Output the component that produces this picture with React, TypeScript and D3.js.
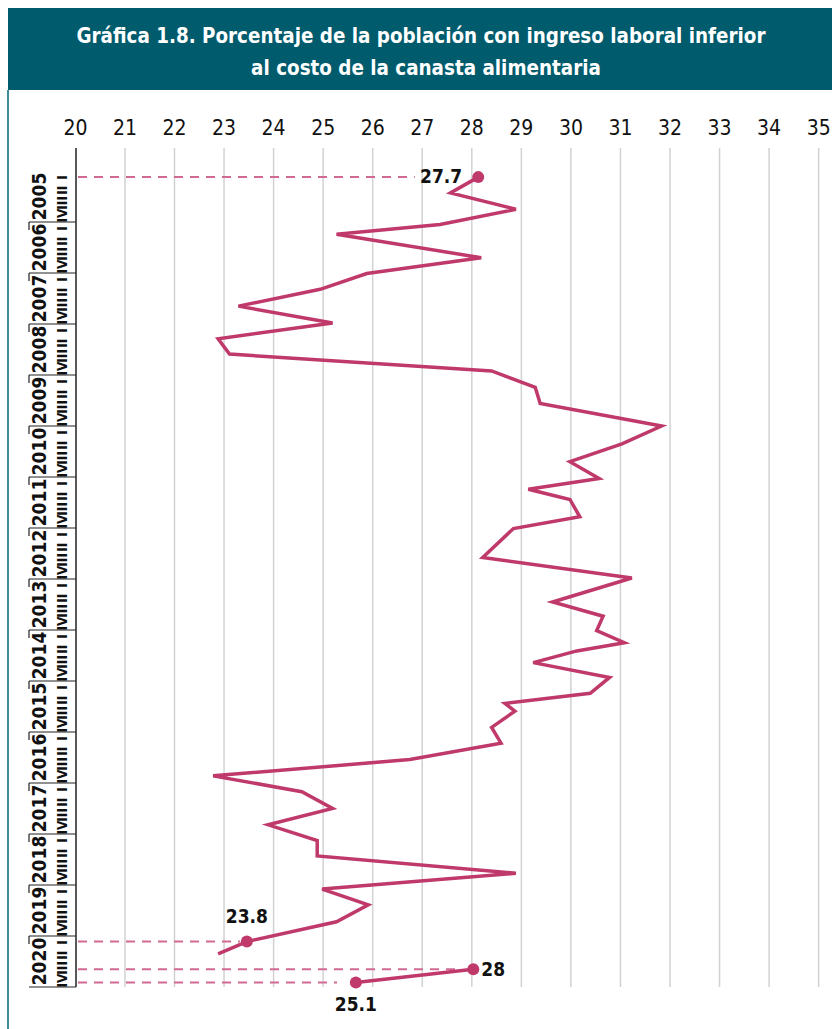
import React from "react";
import * as d3 from "d3";

const years = d3.range(2005, 2021);
const quarterLabels = ["I", "II", "III", "IV"];
const xTicks = d3.range(20, 36);

// main series (decimal time, percent)
const mainTime = [2005.12, 2005.43, 2005.75, 2006.05, 2006.24, 2006.7, 2007.01, 2007.32, 2007.65, 2007.98, 2008.29, 2008.59, 2008.92, 2009.24, 2009.56, 2010.0, 2010.35, 2010.7, 2011.03, 2011.24, 2011.44, 2011.78, 2012.01, 2012.58, 2012.98, 2013.45, 2013.73, 2014.01, 2014.25, 2014.41, 2014.64, 2014.93, 2015.24, 2015.44, 2015.59, 2015.91, 2016.22, 2016.54, 2016.86, 2017.17, 2017.5, 2017.82, 2018.13, 2018.43, 2018.77, 2019.08, 2019.39, 2019.72, 2020.11, 2020.35];
const mainValue = [28.13, 27.57, 28.89, 27.36, 25.27, 28.19, 25.88, 24.94, 23.29, 25.19, 22.88, 23.11, 28.4, 29.28, 29.38, 31.83, 31.03, 29.98, 30.57, 29.14, 29.98, 30.18, 28.84, 28.22, 31.23, 29.63, 30.65, 30.52, 31.08, 30.12, 29.24, 30.78, 30.39, 28.67, 28.87, 28.4, 28.59, 26.75, 22.78, 24.57, 25.19, 23.89, 24.88, 24.88, 28.89, 24.98, 25.91, 25.27, 23.46, 22.88];

// second segment 2020 III - IV
const lateTime = [2020.65, 2020.91];
const lateValue = [28.03, 25.66];

// highlighted points
const hlTime = [2005.12, 2020.11, 2020.65, 2020.91];
const hlValue = [28.13, 23.46, 28.03, 25.66];
const hlLabels = ["27.7", "23.8", "28", "25.1"];
const hlDashEnd = [26.85, 23.32, 27.7, 25.28];

const W = 832;
const H = 1029;
const LINE = "#c0396b";
const DASH = "#d06a92";
const TEAL = "#005b6d";
const FONT = "'DejaVu Sans Condensed', 'Liberation Sans Narrow', sans-serif";

export default function App() {
  const x = d3.scaleLinear().domain([20, 35]).range([75.4, 818.65]);
  const y = d3.scaleLinear().domain([2005, 2021]).range([171, 987]);
  const line = d3
    .line<[number, number]>()
    .x((d) => x(d[1]))
    .y((d) => y(d[0]));
  const mainPts: [number, number][] = mainTime.map((t, i) => [t, mainValue[i]]);
  const latePts: [number, number][] = lateTime.map((t, i) => [t, lateValue[i]]);

  const labelPos = [
    { dx: -16, dy: 6, anchor: "end" },
    { dx: 0, dy: -19, anchor: "middle" },
    { dx: 8, dy: 7, anchor: "start" },
    { dx: 0, dy: 29, anchor: "middle" },
  ];

  return (
    <svg
      width={W}
      height={H}
      style={{ position: "absolute", left: 0, top: 0, background: "#fff" }}
    >
      <rect x={8} y={8} width={W - 8} height={82} fill={TEAL} />
      <text
        x={421}
        y={43}
        fill="#fff"
        fontFamily={FONT}
        fontWeight="bold"
        fontSize={20.4}
        textAnchor="middle"
      >
        Gráfica 1.8. Porcentaje de la población con ingreso laboral inferior
      </text>
      <text
        x={426}
        y={75}
        fill="#fff"
        fontFamily={FONT}
        fontWeight="bold"
        fontSize={20.4}
        textAnchor="middle"
      >
        al costo de la canasta alimentaria
      </text>
      <line x1={8} x2={8} y1={90} y2={H} stroke="#3f8c9a" strokeWidth={2} />

      {/* grid */}
      {xTicks.map((t) => (
        <g key={t}>
          {t > 20 && (
            <line x1={x(t)} x2={x(t)} y1={148} y2={987} stroke="#d2d2d2" strokeWidth={1.5} />
          )}
          <text
            x={x(t)}
            y={135}
            fontFamily={FONT}
            fontSize={21}
            textAnchor="middle"
            fill="#111"
          >
            {t}
          </text>
        </g>
      ))}
      <line x1={76} x2={76} y1={148} y2={987} stroke="#222" strokeWidth={1.5} />

      {/* y axis labels */}
      {years.map((yr) => (
        <g key={yr}>
          {yr > 2005 && (
            <>
              <line x1={29} x2={76} y1={y(yr)} y2={y(yr)} stroke="#222" strokeWidth={1.2} />
              <line x1={29} x2={29} y1={y(yr)} y2={y(yr) + 8} stroke="#222" strokeWidth={1.2} />
            </>
          )}
          <text
            transform={`translate(39,${y(yr + 0.5)}) rotate(-90)`}
            fontFamily={FONT}
            fontWeight="bold"
            fontSize={19}
            textAnchor="middle"
            dominantBaseline="central"
            fill="#111"
          >
            {yr}
          </text>
          {quarterLabels.map((q, qi) => (
            <text
              key={q}
              transform={`translate(62,${y(yr + (qi + 0.5) / 4)}) rotate(-90)`}
              fontFamily={FONT}
              fontWeight="bold"
              fontSize={13.5}
              textAnchor="middle"
              dominantBaseline="central"
              fill="#111"
            >
              {q}
            </text>
          ))}
        </g>
      ))}
      <line x1={29} x2={76} y1={y(2021)} y2={y(2021)} stroke="#222" strokeWidth={1.2} />

      {/* dashed reference lines */}
      {hlTime.map((t, i) => (
        <line
          key={"d" + i}
          x1={78}
          x2={x(hlDashEnd[i])}
          y1={y(t)}
          y2={y(t)}
          stroke={DASH}
          strokeWidth={2}
          strokeDasharray="9,7"
        />
      ))}

      <path d={line(mainPts) || ""} fill="none" stroke={LINE} strokeWidth={3.5} strokeLinejoin="miter" />
      <path d={line(latePts) || ""} fill="none" stroke={LINE} strokeWidth={3.5} />

      {hlTime.map((t, i) => (
        <g key={"h" + i}>
          <circle cx={x(hlValue[i])} cy={y(t)} r={6} fill={LINE} />
          <text
            x={x(hlValue[i]) + labelPos[i].dx}
            y={y(t) + labelPos[i].dy}
            fontFamily={FONT}
            fontWeight="bold"
            fontSize={19}
            textAnchor={labelPos[i].anchor}
            fill="#111"
          >
            {hlLabels[i]}
          </text>
        </g>
      ))}
    </svg>
  );
}
